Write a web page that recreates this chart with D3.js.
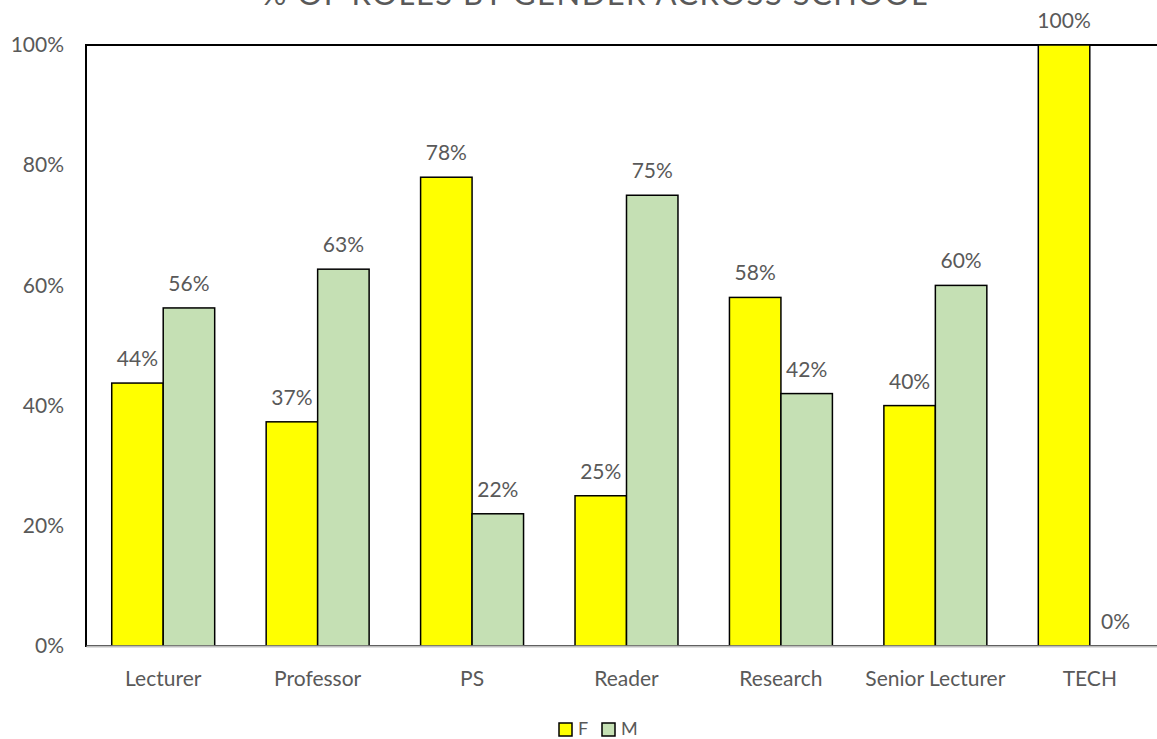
<!DOCTYPE html>
<html>
<head>
<meta charset="utf-8">
<script src="https://cdn.jsdelivr.net/npm/d3@7"></script>
<style>
body { margin: 0; background: #fff; }
text { font-family: Lato, "Open Sans", sans-serif; fill: #595959; }
</style>
</head>
<body>
<svg></svg>
<script>
var categories = ["Lecturer", "Professor", "PS", "Reader", "Research", "Senior Lecturer", "TECH"]
var seriesNames = ["F", "M"]
var fValues = [0.4375, 0.373, 0.78, 0.25, 0.58, 0.40, 1.00]
var mValues = [0.5625, 0.627, 0.22, 0.75, 0.42, 0.60, 0.00]
var yTicks = [0, 0.2, 0.4, 0.6, 0.8, 1.0]
var colors = {F: "#ffff00", M: "#c5e0b4"}

var screen = {width: 1157, height: 739}
var margins = {top: 45, left: 86}
var plot = {width: 1081, height: 601}
var fontSize = "21px"

var svg = d3.select("svg")
    .attr("width", screen.width)
    .attr("height", screen.height)

var xScale = d3.scaleBand()
    .domain(categories)
    .range([0, plot.width])
var inner = d3.scaleBand()
    .domain(seriesNames)
    .range([xScale.bandwidth() / 6, xScale.bandwidth() * 5 / 6])
var yScale = d3.scaleLinear()
    .domain([0, 1])
    .range([plot.height, 0])

var rows = categories.map(function(c, i) {
    return {cat: c, vals: [{s: "F", v: fValues[i]}, {s: "M", v: mValues[i]}]}
})

// title (cut off at the top like the original)
svg.append("text")
    .attr("x", 595)
    .attr("y", 5)
    .attr("text-anchor", "middle")
    .style("font-size", "31px")
    .style("letter-spacing", "1.5px")
    .text("% OF ROLES BY GENDER ACROSS SCHOOL")

var g = svg.append("g")
    .attr("id", "graph")
    .attr("transform", "translate(" + margins.left + "," + margins.top + ")")

// frame
g.append("rect")
    .attr("width", plot.width)
    .attr("height", plot.height)
    .attr("fill", "none")
    .attr("stroke", "black")
    .attr("stroke-width", 2)

var yAxis = d3.axisLeft(yScale)
    .tickValues(yTicks)
    .tickFormat(d3.format(".0%"))
    .tickSize(0)
    .tickPadding(22)
g.append("g")
    .attr("id", "yAxis")
    .call(yAxis)
    .call(function(a) { a.select(".domain").remove() })
    .selectAll("text")
    .style("font-size", fontSize)
    .style("font-family", "Lato, sans-serif")
    .attr("fill", "#595959")

var groups = g.selectAll(".cat")
    .data(rows)
    .enter()
    .append("g")
    .attr("class", "cat")
    .attr("transform", function(d) { return "translate(" + xScale(d.cat) + ",0)" })

groups.selectAll("rect")
    .data(function(d) { return d.vals })
    .enter()
    .append("rect")
    .attr("x", function(d) { return inner(d.s) })
    .attr("width", inner.bandwidth())
    .attr("y", function(d) { return yScale(d.v) })
    .attr("height", function(d) { return plot.height - yScale(d.v) })
    .attr("fill", function(d) { return colors[d.s] })
    .attr("stroke", "black")
    .attr("stroke-width", 1.5)

groups.selectAll(".lbl")
    .data(function(d) { return d.vals })
    .enter()
    .append("text")
    .attr("class", "lbl")
    .attr("x", function(d) { return inner(d.s) + inner.bandwidth() / 2 })
    .attr("y", function(d) { return yScale(d.v) - 17 })
    .attr("text-anchor", "middle")
    .style("font-size", fontSize)
    .text(function(d) { return d3.format(".0%")(d.v) })

// baseline
var xAxis = d3.axisBottom(xScale).tickSize(0).tickPadding(25)
g.append("g")
    .attr("id", "xAxis")
    .attr("transform", "translate(0," + plot.height + ")")
    .call(xAxis)
    .call(function(a) { a.select(".domain").attr("stroke", "#bfbfbf").attr("stroke-width", 2) })
    .selectAll("text")
    .style("font-size", fontSize)
    .style("font-family", "Lato, sans-serif")
    .attr("fill", "#595959")

// legend
var legend = svg.append("g")
    .attr("transform", "translate(559,723)")
var items = legend.selectAll("g")
    .data(seriesNames)
    .enter()
    .append("g")
    .attr("transform", function(d, i) { return "translate(" + (i * 43) + ",0)" })
items.append("rect")
    .attr("width", 13)
    .attr("height", 13)
    .attr("fill", function(d) { return colors[d] })
    .attr("stroke", "black")
    .attr("stroke-width", 1.5)
items.append("text")
    .attr("x", 19)
    .attr("y", 12)
    .style("font-size", "18px")
    .text(function(d) { return d })
</script>
</body>
</html>
